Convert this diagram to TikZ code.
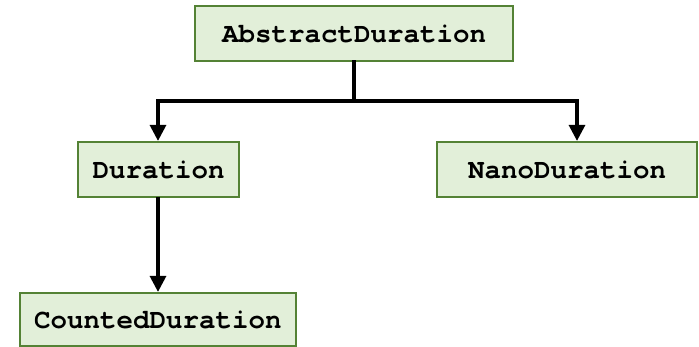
\documentclass[tikz,border=0pt]{standalone}
\usepackage{fontspec}
\setmonofont{TeX Gyre Cursor}
\usetikzlibrary{arrows.meta}
\definecolor{boxfill}{HTML}{E2EFD9}
\definecolor{boxdraw}{HTML}{548235}
\tikzset{
  classbox/.style={draw=boxdraw, fill=boxfill, line width=2.2pt, inner sep=0pt,
    font=\ttfamily\bfseries\fontsize{27.5}{30}\selectfont, anchor=center},
  conn/.style={line width=3.2pt, draw=black},
  arr/.style={conn, -{Triangle[width=16pt,length=16pt]}}
}
\begin{document}
\begin{tikzpicture}[x=1pt,y=-1pt]
\useasboundingbox (0,0) rectangle (699,347);
\node[classbox, minimum width=318pt, minimum height=55pt] (abs) at (354,33.5) {AbstractDuration};
\node[classbox, minimum width=161pt, minimum height=55pt] (dur) at (158.5,169.5) {Duration};
\node[classbox, minimum width=260pt, minimum height=55pt] (nano) at (567,169.5) {NanoDuration};
\node[classbox, minimum width=276pt, minimum height=53pt] (cnt) at (158,319.5) {CountedDuration};
\coordinate (jl) at (158,101);
\coordinate (jr) at (577,101);
\coordinate (dl) at (158,197);
\draw[conn, line cap=rect] (abs.south) -- (abs.south |- jl);
\draw[conn, line cap=rect] (jl) -- (jr);
\draw[arr] (jl) -- (jl |- dur.north);
\draw[arr] (jr) -- (jr |- nano.north);
\draw[arr] (dl) -- (dl |- cnt.north);
\end{tikzpicture}
\end{document}
